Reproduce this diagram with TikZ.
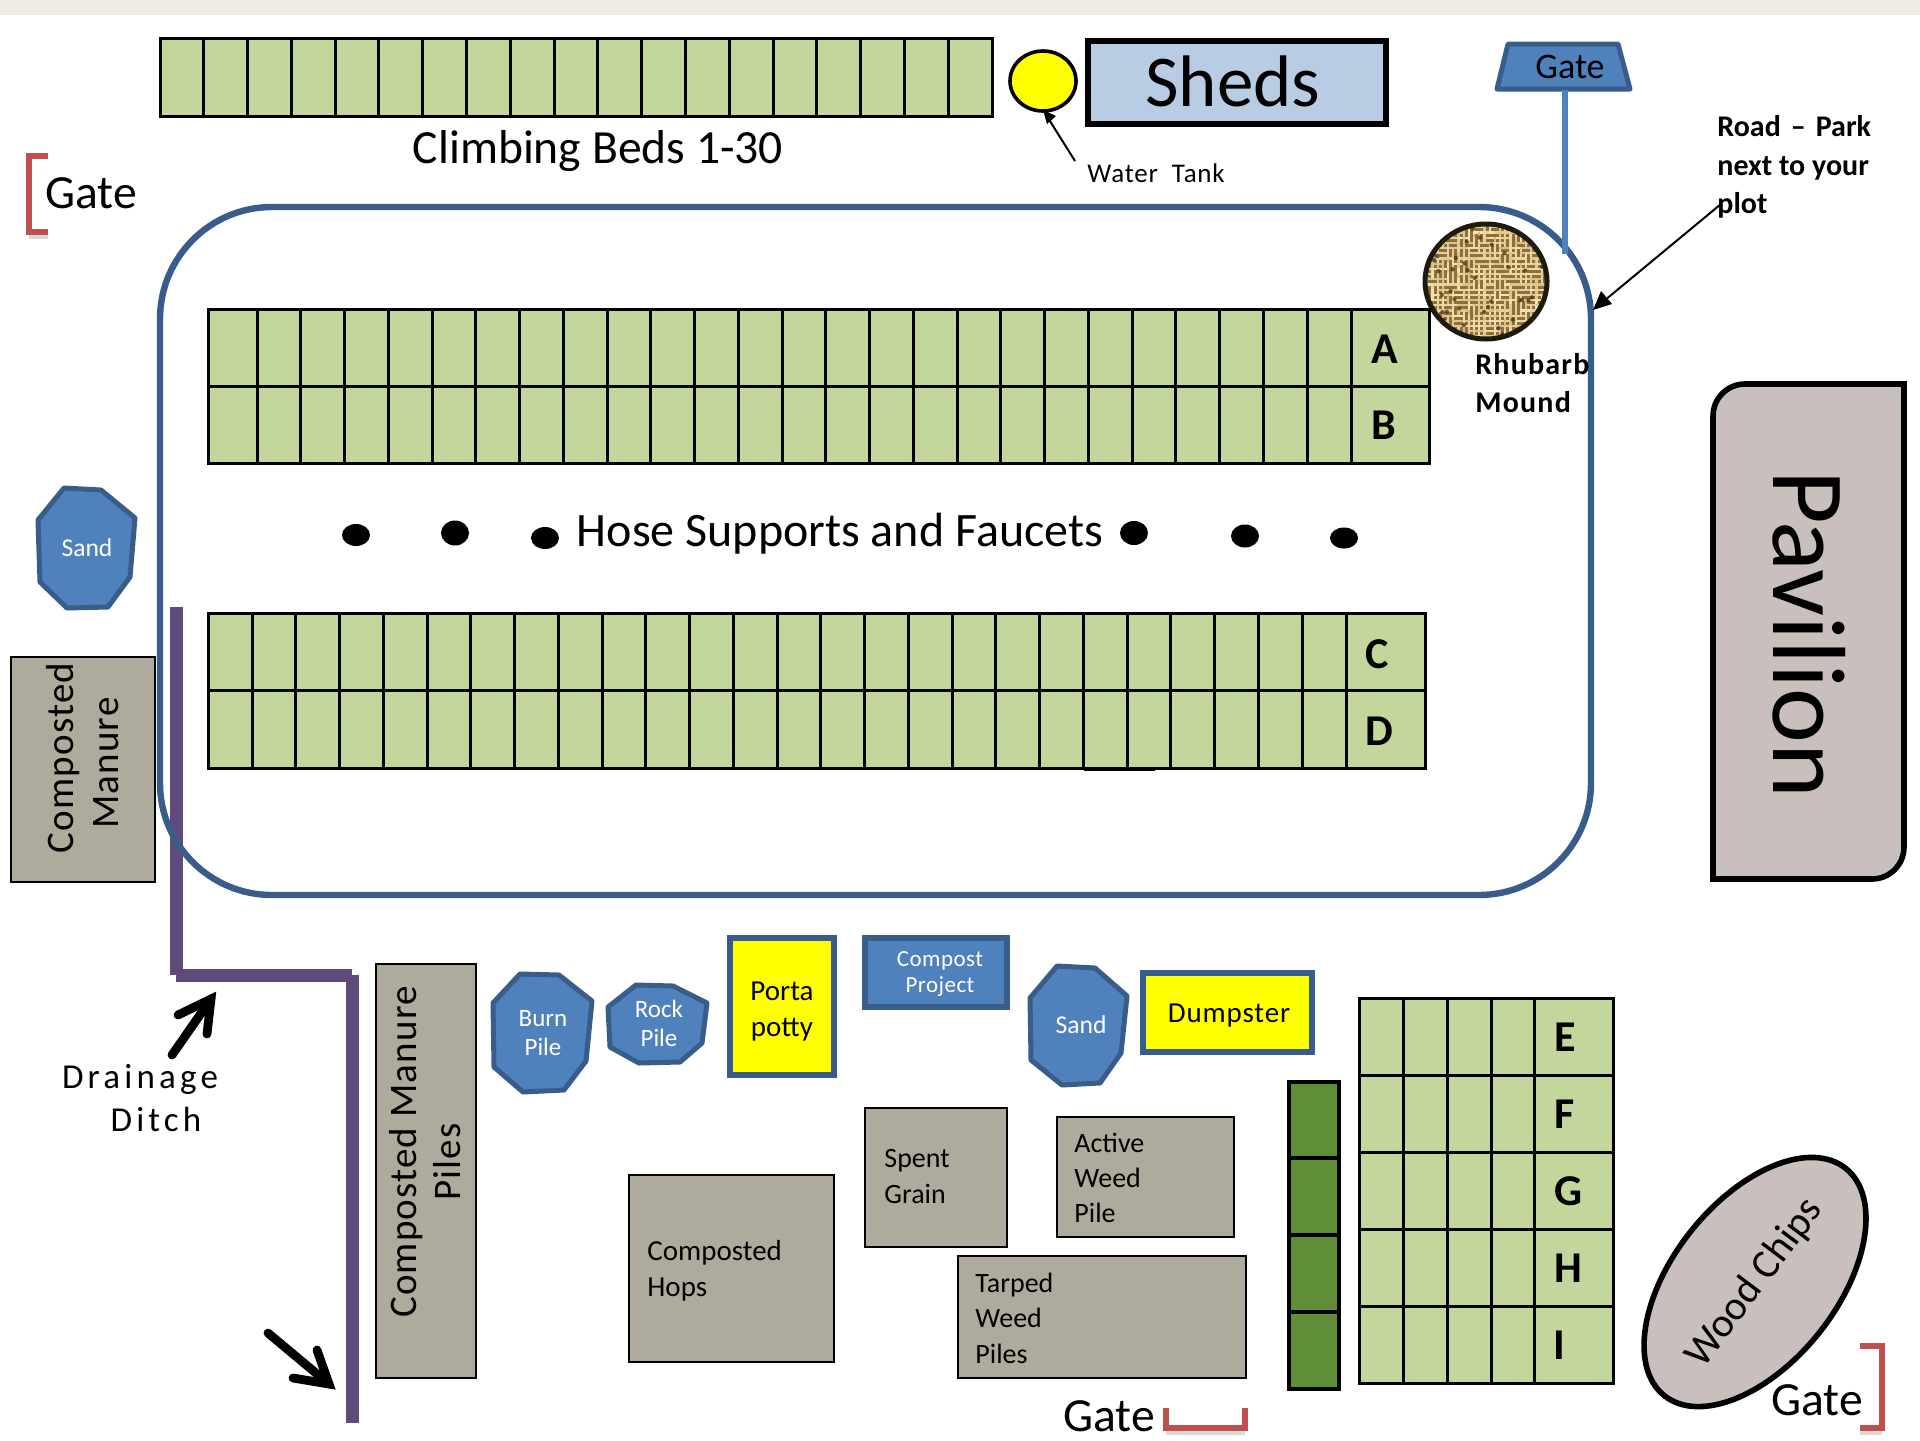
\documentclass[tikz,border=0pt]{standalone}
\usepackage{fontspec}
\setmainfont{Carlito}
\usetikzlibrary{calc}
\definecolor{bedgreen}{HTML}{C3D69B}
\definecolor{darkbed}{HTML}{5F8E36}
\definecolor{roadblue}{HTML}{385D8A}
\definecolor{fillblue}{HTML}{4F81BD}
\definecolor{shedblue}{HTML}{B8CCE4}
\definecolor{ditch}{HTML}{604A7B}
\definecolor{pilegrey}{HTML}{AEAB9C}
\definecolor{mauve}{HTML}{C9C0BE}
\definecolor{gatered}{HTML}{C0504D}
\definecolor{topband}{HTML}{EEECE1}
\definecolor{pureyellow}{RGB}{255,255,0}
\definecolor{burlapbase}{HTML}{8F7038}
\definecolor{burlaplight}{HTML}{F3E3B6}
\definecolor{burlapmid}{HTML}{D8BE85}
\definecolor{burlapdark}{HTML}{4A3414}
\definecolor{ringdark}{HTML}{1D1B10}
\newcommand{\fsz}[2]{\fontsize{#1}{#2}\selectfont}
\newcommand{\lsp}[1]{\addfontfeature{LetterSpace=#1}}
\tikzset{
  x=0.5pt,y=-0.5pt,
  bed/.style={fill=bedgreen,draw=black,line width=1.5pt},
  bedline/.style={draw=black,line width=1.5pt},
  pile/.style={fill=pilegrey,draw=black,line width=1.4pt},
  bluepoly/.style={fill=fillblue,draw=roadblue,line width=2.5pt,line join=round},
  yellowbox/.style={fill=pureyellow,draw=roadblue,line width=2.8pt},
  whitetext/.style={white,inner sep=0pt,align=center},
  plain/.style={inner sep=0pt,align=left,text=black},
  ditchline/.style={draw=ditch,line width=6.5pt},
  bracket/.style={draw=gatered,line width=2.6pt},
  bracketshadow/.style={draw=black,opacity=.15,line width=3pt},
  thickarrow/.style={draw=black,line width=4.4pt,line cap=round,miter limit=10},
  thinarrow/.style={draw=black,line width=1pt},
  tip/.style={fill=black,draw=none},
}
\begin{document}
\begin{tikzpicture}
\useasboundingbox (0,0) rectangle (1920,1440);
\fill[white] (0,0) rectangle (1920,1440);
\fill[topband] (0,0) rectangle (1920,15);

% climbing beds
\draw[bed] (160,38) rectangle (992,116);
\foreach \i in {1,...,18}{\draw[bedline] ({160+\i*43.79},38) -- ({160+\i*43.79},116);}
\node[plain,font=\fsz{23.8}{27}] (climb) at (598,151) {Climbing Beds 1-30};

% water tank
\draw[fill=pureyellow,draw=black,line width=1.8pt] (1043,81) ellipse [x radius=33,y radius=30];
\coordinate (tankfrom) at (1075,161);
\coordinate (tankto) at (1043,110);
\draw[thinarrow,shorten >=6pt] (tankfrom) -- (tankto);
\fill[tip] (1043,110) -- (1056,116) -- (1047,124) -- cycle;
\node[plain,font=\fsz{13.5}{16}\lsp{3},anchor=west] (tanklabel) at (1087,173) {Water\ \ Tank};

% sheds
\draw[fill=shedblue,draw=black,line width=2.6pt] (1088,41) rectangle (1386,124);
\node[plain,font=\fsz{36.5}{40}] (sheds) at (1233,81) {Sheds};

% top gate and post
\draw[fill=fillblue,draw=roadblue,line width=2.5pt,line join=round] (1508,44) -- (1618,44) -- (1630,89) -- (1497,89) -- cycle;
\node[plain,font=\fsz{18}{20}] (gatetop) at (1570,67) {Gate};
\coordinate (postA) at (1565,90);
\coordinate (postB) at (1565,254);

% left gate
\draw[bracketshadow] (29,236) -- (48,236);
\draw[bracket] (48,156) -- (29,156) -- (29,232) -- (48,232);
\node[plain,font=\fsz{23.8}{26}] (gateleft) at (91,193) {Gate};

% ditch (below road)
\coordinate (d1) at (176,607);
\coordinate (d2) at (176,975);
\coordinate (d3) at (176,975.5);
\coordinate (d4) at (352,975.5);
\coordinate (d5) at (352.5,975);
\coordinate (d6) at (352.5,1423);
\draw[ditchline] (d1) -- (d2);
\draw[ditchline] (d3) -- (d4);
\draw[ditchline] (d5) -- (d6);

% left manure pile
\draw[pile] (11,657) rectangle (155,882);
\node[plain,align=center,rotate=90,font=\fsz{19.5}{22.5}\lsp{3}] (manureleft) at (83,758) {Composted\\Manure\hspace*{5pt}};

% road
\draw[draw=roadblue,line width=3.2pt,rounded corners=56pt] (160,207) rectangle (1591,895);
\draw[draw=fillblue,line width=3pt] (postA) -- (postB);

% rhubarb
\begin{scope}
\clip (1486,281.5) ellipse [x radius=61,y radius=57.5];
\fill[burlapbase] (1420,220) rectangle (1550,345);
\pgfmathsetseed{11}
\foreach \i in {0,...,25}{\foreach \j in {0,...,24}{
  \pgfmathsetmacro{\xx}{1422+\i*5.2}
  \pgfmathsetmacro{\yy}{222+\j*5.2}
  \pgfmathsetmacro{\pick}{rnd+0.5*(mod(\i+\j,2)-0.5)}
  \pgfmathsetmacro{\shade}{int(rnd*100)}
  \ifdim\pick pt>0.5pt
    \draw[color=burlaplight!\shade!burlapmid,line width=1.1pt] (\xx-6,\yy) -- (\xx+6,\yy);
  \else
    \draw[color=burlaplight!\shade!burlapmid,line width=1.1pt] (\xx,\yy-6) -- (\xx,\yy+6);
  \fi
}}
\foreach \k in {1,...,40}{
  \pgfmathsetmacro{\xx}{1428+rnd*116}
  \pgfmathsetmacro{\yy}{226+rnd*112}
  \fill[burlapdark,opacity=.75] (\xx,\yy) circle[radius=1.1pt];
}
\end{scope}
\draw[draw=ringdark,line width=2.5pt] (1486,281.5) ellipse [x radius=61,y radius=57.5];
\node[plain,anchor=west,font=\bfseries\fsz{15}{19.4}\lsp{4}] (rhubarb) at (1475,383) {Rhubarb\\Mound};

% road label and arrow
\node[plain,anchor=west,font=\bfseries\fsz{15}{19.2}] (roadlabel) at (1717,167) {Road\,\,--\,\,Park\\next to your\\plot};
\coordinate (roadfrom) at (1721,204);
\coordinate (roadto) at (1593,310);
\draw[thinarrow,shorten >=8pt] (roadfrom) -- (roadto);
\fill[tip] (1593,310) -- (1601,291) -- (1612,304) -- cycle;

% beds A B
\draw[bed] (208,309) rectangle (1429,463);
\draw[bedline] (208,386) -- (1429,386);
\foreach \i in {0,...,25}{\draw[bedline] ({257+\i*43.76},309) -- ({257+\i*43.76},463);}
\node[plain,font=\bfseries\fsz{22}{24}] (labA) at (1385,349) {A};
\node[plain,font=\bfseries\fsz{22}{24}] (labB) at (1384,425) {B};

% hose supports
\foreach \x/\y/\ry in {356/535/11,455/533/12.5,545/538/11,1134/533/12,1245/536/11.5,1344/538/10.5}
  {\fill[black] (\x,\y) ellipse [x radius=14,y radius=\ry];}
\node[plain,font=\fsz{24}{26}] (hose) at (840,534) {Hose Supports and Faucets};

% beds C D
\draw[bed] (208,613) rectangle (1425,768);
\draw[bedline] (208,690) -- (1425,690);
\foreach \i in {0,...,25}{\draw[bedline] ({252+\i*43.76},613) -- ({252+\i*43.76},768);}
\draw[bedline] (1084,769) -- (1155,769);
\node[plain,font=\bfseries\fsz{22}{24}] (labC) at (1377,654) {C};
\node[plain,font=\bfseries\fsz{22}{24}] (labD) at (1379,731) {D};

% pavilion
\draw[fill=mauve,draw=black,line width=2.8pt,line join=miter] (1904,384) [rounded corners=16pt] -- (1904,879) [sharp corners] -- (1713,879) [rounded corners=16pt] -- (1713,384) [sharp corners] -- cycle;
\node[plain,rotate=-90,anchor=base,font=\fsz{52}{54}] (pavilion) at (1773,634) {Pavilion};

% left sand
\draw[bluepoly] (64,488) -- (101,490) -- (135,518) -- (130,577) -- (108,607) -- (67,608) -- (40,582) -- (38,520) -- cycle;
\node[whitetext,font=\fsz{12.8}{15}] (sandleft) at (87,548) {Sand};

% burn, rock
\draw[bluepoly] (520,974) -- (559,975) -- (592,1001) -- (586,1061) -- (564,1090) -- (523,1092) -- (494,1067) -- (493,1003) -- cycle;
\node[whitetext,font=\fsz{12.5}{14.5}] (burn) at (543,1033) {Burn\\Pile};
\draw[bluepoly] (636,985) -- (673,986) -- (707,1003) -- (702,1043) -- (680,1062) -- (639,1063) -- (610,1047) -- (608,1007) -- cycle;
\node[whitetext,font=\fsz{12.5}{14.5}] (rock) at (659,1023) {Rock\\Pile};

% porta potty
\draw[yellowbox] (730,938) rectangle (834,1075);
\node[plain,align=center,font=\fsz{14.5}{18}] (porta) at (782,1012) {Porta\\potty};

% compost project
\draw[fill=fillblue,draw=roadblue,line width=2.8pt] (865,938) rectangle (1007,1007);
\node[whitetext,font=\fsz{11.5}{13}\lsp{2}] (compost) at (940,974) {Compost\\Project};

% right sand
\draw[bluepoly] (1057,966) -- (1095,968) -- (1127,996) -- (1121,1053) -- (1100,1083) -- (1062,1085) -- (1031,1060) -- (1030,998) -- cycle;
\node[whitetext,font=\fsz{12.8}{15}] (sandright) at (1081,1025) {Sand};

% dumpster
\draw[yellowbox] (1143,973) rectangle (1312,1052);
\node[plain,font=\fsz{14.5}{17}\lsp{3}] (dumpster) at (1229,1016) {Dumpster};

% piles
\draw[pile] (865,1108) rectangle (1007,1247);
\node[plain,anchor=west,font=\fsz{14}{17.7}] (spent) at (884,1176.5) {Spent\\Grain};
\draw[pile] (1057,1117) rectangle (1234,1237);
\node[plain,anchor=west,font=\fsz{14}{17.5}] (active) at (1074,1178) {Active\\Weed\\Pile};
\draw[pile] (629,1175) rectangle (834,1362);
\node[plain,anchor=west,font=\fsz{14.5}{17.8}] (hops) at (647,1271) {Composted\\Hops};
\draw[pile] (958,1256) rectangle (1246,1378);
\node[plain,anchor=west,font=\fsz{14}{17.7}] (tarped) at (975,1318) {Tarped\\Weed\\Piles};
\draw[pile] (376,964) rectangle (476,1378);
\node[plain,align=center,rotate=90,font=\fsz{19.5}{22}\lsp{3}] (manurepiles) at (425,1152) {Composted Manure\\Piles\hspace*{10pt}};

% drainage
\node[plain,align=center,font=\fsz{17.5}{21.5}\lsp{12}] (drain) at (140,1098) {Drainage\\\hspace*{16pt}Ditch};
\coordinate (ar1a) at (172,1055);
\coordinate (ar1t) at (211,999);
\coordinate (ar1b) at (178,1015);
\coordinate (ar1c) at (207,1034);
\draw[thickarrow] (ar1a) -- (ar1t);
\draw[thickarrow,line join=miter] (ar1b) -- (ar1t) -- (ar1c);
\coordinate (ar2a) at (268,1333);
\coordinate (ar2t) at (329,1384);
\coordinate (ar2b) at (317,1350);
\coordinate (ar2c) at (293,1378);
\draw[thickarrow] (ar2a) -- (ar2t);
\draw[thickarrow,line join=miter] (ar2b) -- (ar2t) -- (ar2c);

% dark strip
\draw[fill=darkbed,draw=black,line width=1.6pt] (1289,1082) rectangle (1339,1389);
\foreach \y in {1158,1235,1312}{\draw[draw=black,line width=1.6pt] (1289,\y) -- (1339,\y);}

% grid E-I
\draw[bed] (1359,998) rectangle (1613,1383);
\foreach \y in {1075,1152,1229,1306}{\draw[bedline] (1359,\y) -- (1613,\y);}
\foreach \x in {1403,1447,1491,1534}{\draw[bedline] (\x,998) -- (\x,1383);}
\node[plain,font=\bfseries\fsz{22}{24}] (labE) at (1565,1037) {E};
\node[plain,font=\bfseries\fsz{22}{24}] (labF) at (1565,1114) {F};
\node[plain,font=\bfseries\fsz{22}{24}] (labG) at (1568,1191) {G};
\node[plain,font=\bfseries\fsz{22}{24}] (labH) at (1568,1268) {H};
\node[plain,font=\bfseries\fsz{22}{24}] (labI) at (1559,1345) {I};

% wood chips
\draw[fill=mauve,draw=black,line width=2.8pt,shift={(1755,1282)},rotate=51.4] (0,0) ellipse [x radius=72.7pt,y radius=40.9pt];
\node[plain,rotate=53,font=\fsz{20.5}{24}] (wood) at (1755,1283) {Wood Chips};

% bottom gates
\draw[bracketshadow] (1166,1432) -- (1245,1432);
\draw[bracket] (1166,1408) -- (1166,1428) -- (1245,1428) -- (1245,1408);
\node[plain,font=\fsz{23.8}{26}] (gatebottom) at (1109,1416) {Gate};
\draw[bracketshadow] (1860,1432) -- (1882,1432);
\draw[bracket] (1860,1346) -- (1882,1346) -- (1882,1428) -- (1860,1428);
\node[plain,font=\fsz{23.8}{26}] (gateright) at (1817,1400) {Gate};
\end{tikzpicture}
\end{document}
